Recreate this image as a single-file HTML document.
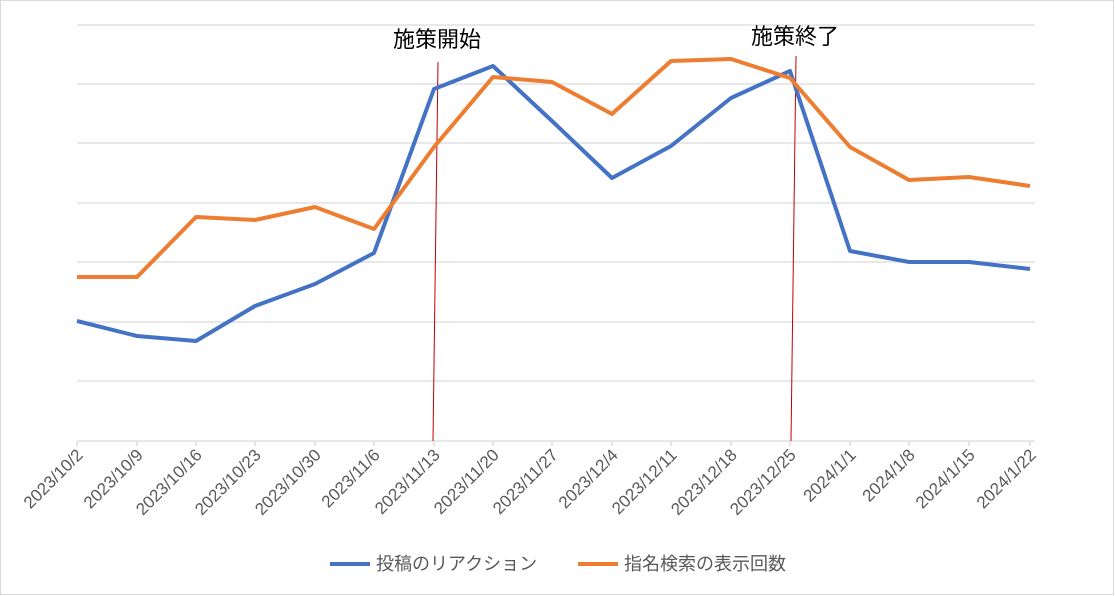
<!DOCTYPE html>
<html><head><meta charset="utf-8"><style>body{margin:0;background:#fff}svg{display:block}</style></head><body>
<svg width="1115" height="596" xmlns="http://www.w3.org/2000/svg" font-family="'Liberation Sans','Noto Sans CJK JP',sans-serif">
<rect x="0.5" y="0.5" width="1113" height="594" fill="#fff" stroke="#d9d9d9"/>
<g stroke="#d9d9d9" stroke-width="1.3">
<line x1="77" x2="1035" y1="25" y2="25"/><line x1="77" x2="1035" y1="84" y2="84"/><line x1="77" x2="1035" y1="143" y2="143"/><line x1="77" x2="1035" y1="203" y2="203"/><line x1="77" x2="1035" y1="262" y2="262"/><line x1="77" x2="1035" y1="322" y2="322"/><line x1="77" x2="1035" y1="381" y2="381"/><line x1="77" x2="1035" y1="441" y2="441"/>
</g>
<line x1="438" y1="62" x2="433" y2="441" stroke="#c00000" stroke-width="1"/>
<line x1="796" y1="56" x2="791" y2="441" stroke="#c00000" stroke-width="1"/>
<text x="437" y="47" font-size="22" text-anchor="middle" fill="#000">施策開始</text>
<text x="795" y="44" font-size="22" text-anchor="middle" fill="#000">施策終了</text>
<polyline fill="none" stroke="#4472c4" stroke-width="4" stroke-linejoin="round" points="77,321 137,336 196,341 255,306 315,284 374,253 434,89 493,66 552,121 612,178 671,146 731,98 790,71 850,251 909,262 969,262 1030,269"/>
<polyline fill="none" stroke="#ed7d31" stroke-width="4" stroke-linejoin="round" points="77,277 137,277 196,217 255,220 315,207 374,229 434,147 493,77 552,82 612,114 671,61 731,59 790,78 850,147 909,180 969,177 1030,186"/>
<g font-size="17" fill="#595959" text-anchor="end">
<text transform="translate(84,456) rotate(-45)">2023/10/2</text>
<text transform="translate(144,456) rotate(-45)">2023/10/9</text>
<text transform="translate(203,456) rotate(-45)">2023/10/16</text>
<text transform="translate(262,456) rotate(-45)">2023/10/23</text>
<text transform="translate(322,456) rotate(-45)">2023/10/30</text>
<text transform="translate(381,456) rotate(-45)">2023/11/6</text>
<text transform="translate(441,456) rotate(-45)">2023/11/13</text>
<text transform="translate(500,456) rotate(-45)">2023/11/20</text>
<text transform="translate(559,456) rotate(-45)">2023/11/27</text>
<text transform="translate(619,456) rotate(-45)">2023/12/4</text>
<text transform="translate(678,456) rotate(-45)">2023/12/11</text>
<text transform="translate(738,456) rotate(-45)">2023/12/18</text>
<text transform="translate(797,456) rotate(-45)">2023/12/25</text>
<text transform="translate(857,456) rotate(-45)">2024/1/1</text>
<text transform="translate(916,456) rotate(-45)">2024/1/8</text>
<text transform="translate(976,456) rotate(-45)">2024/1/15</text>
<text transform="translate(1037,456) rotate(-45)">2024/1/22</text>
</g>
<g stroke="#d9d9d9" stroke-width="1.3">
<line x1="77" x2="77" y1="441" y2="446"/><line x1="137" x2="137" y1="441" y2="446"/><line x1="196" x2="196" y1="441" y2="446"/><line x1="255" x2="255" y1="441" y2="446"/><line x1="315" x2="315" y1="441" y2="446"/><line x1="374" x2="374" y1="441" y2="446"/><line x1="434" x2="434" y1="441" y2="446"/><line x1="493" x2="493" y1="441" y2="446"/><line x1="552" x2="552" y1="441" y2="446"/><line x1="612" x2="612" y1="441" y2="446"/><line x1="671" x2="671" y1="441" y2="446"/><line x1="731" x2="731" y1="441" y2="446"/><line x1="790" x2="790" y1="441" y2="446"/><line x1="850" x2="850" y1="441" y2="446"/><line x1="909" x2="909" y1="441" y2="446"/><line x1="969" x2="969" y1="441" y2="446"/><line x1="1030" x2="1030" y1="441" y2="446"/>
</g>
<line x1="330" y1="564" x2="370" y2="564" stroke="#4472c4" stroke-width="4"/>
<text x="376" y="570" font-size="18" fill="#595959">投稿のリアクション</text>
<line x1="578" y1="564" x2="618" y2="564" stroke="#ed7d31" stroke-width="4"/>
<text x="624" y="570" font-size="18" fill="#595959">指名検索の表示回数</text>
</svg>
</body></html>
